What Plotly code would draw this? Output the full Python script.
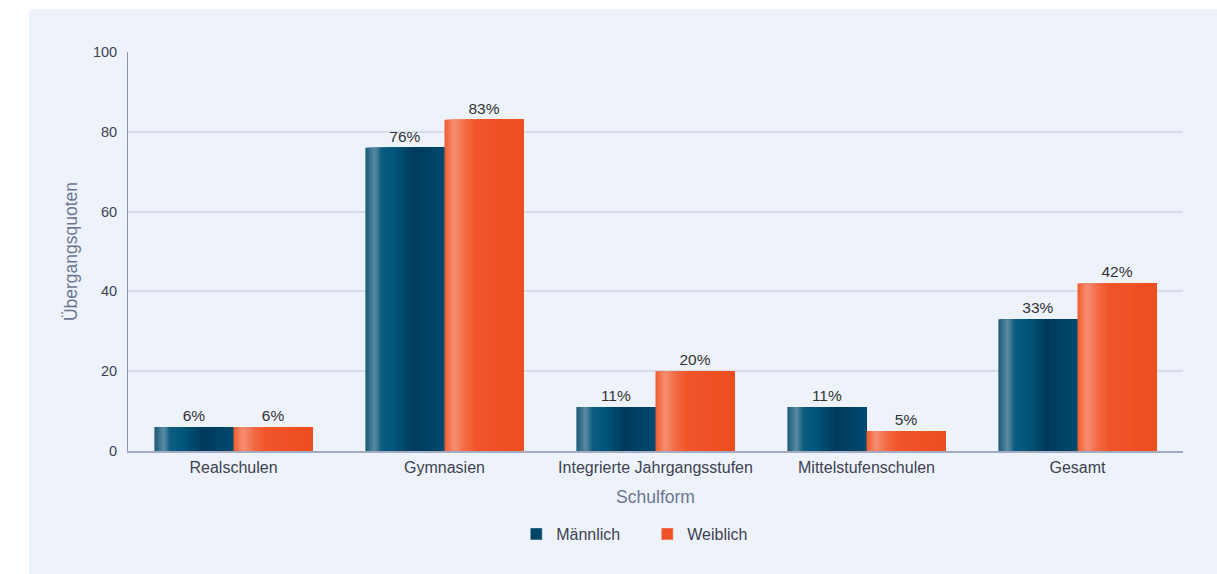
import plotly.graph_objects as go

# Data: transition rates by school type and gender
categories = ["Realschulen", "Gymnasien", "Integrierte Jahrgangsstufen",
              "Mittelstufenschulen", "Gesamt"]
maennlich = [6, 76, 11, 11, 33]
weiblich = [6, 83, 20, 5, 42]
y_ticks = [0, 20, 40, 60, 80, 100]

PANEL = "#eef3fb"
BAR_W = 0.375
N_SLICES = 40

# Horizontal gradient stops (position across bar, colour) for a glossy look
male_stops = [(0.0, "#1a5977"), (0.12, "#5d8ca3"), (0.2, "#0d5d80"),
              (0.35, "#00567a"), (0.62, "#003a5d"), (0.75, "#003f63"),
              (1.0, "#004a70")]
female_stops = [(0.0, "#f05a2e"), (0.12, "#f68f72"), (0.25, "#f36c45"),
                (0.4, "#f05529"), (1.0, "#ec4d21")]


def hex_to_rgb(h):
    h = h.lstrip("#")
    return tuple(int(h[i:i + 2], 16) for i in (0, 2, 4))


def gradient_at(stops, t):
    for (p0, c0), (p1, c1) in zip(stops[:-1], stops[1:]):
        if p0 <= t <= p1:
            f = (t - p0) / (p1 - p0) if p1 > p0 else 0
            a, b = hex_to_rgb(c0), hex_to_rgb(c1)
            r = [round(a[k] + (b[k] - a[k]) * f) for k in range(3)]
            return f"rgb({r[0]},{r[1]},{r[2]})"
    return stops[-1][1]


fig = go.Figure()


def add_series(name, values, stops, start, legend_color):
    step = BAR_W / N_SLICES
    # each slice runs to the bar's right edge; later slices cover earlier
    # ones, so the gradient shows without seams between slices
    for i in range(N_SLICES):
        t = (i + 0.5) / N_SLICES
        fig.add_trace(go.Bar(
            x=categories, y=values, width=BAR_W - i * step,
            offset=start + i * step,
            marker=dict(color=gradient_at(stops, t), line=dict(width=0)),
            showlegend=False, legendgroup=name, hoverinfo="skip",
        ))
    # full-width carrier for value labels
    fig.add_trace(go.Bar(
        x=categories, y=values, width=BAR_W, offset=start, name=name,
        legendgroup=name,
        marker=dict(color="rgba(0,0,0,0)", line=dict(width=0)),
        text=[f"{v}%" for v in values], textposition="outside",
        textfont=dict(size=15.5, color="#333333"), cliponaxis=False,
        showlegend=False,
    ))
    # legend swatch
    fig.add_trace(go.Bar(
        x=[categories[0]], y=[None], name=name, legendgroup=name,
        marker=dict(color=legend_color), showlegend=True,
    ))


add_series("Männlich", maennlich, male_stops, -BAR_W, "#004468")
add_series("Weiblich", weiblich, female_stops, 0.0, "#f05225")

fig.update_layout(
    width=1217, height=574,
    margin=dict(l=128, r=34, t=52, b=123),
    paper_bgcolor="white",
    plot_bgcolor=PANEL,
    barmode="overlay",
    font=dict(family="Liberation Sans, Arial, sans-serif", size=16,
              color="#3d4150"),
    showlegend=True,
    legend=dict(orientation="h", x=0.368, xanchor="left", y=-0.208,
                yanchor="middle", bgcolor="rgba(0,0,0,0)",
                font=dict(size=16, color="#3d4150"), itemwidth=30,
                entrywidth=86, entrywidthmode="pixels",
                traceorder="normal"),
    xaxis=dict(
        showgrid=False, showline=True, linecolor="#a4aabf", linewidth=1.5,
        ticks="outside", ticklen=1, tickcolor="rgba(0,0,0,0)",
        tickfont=dict(size=16, color="#3d4150"),
        title=dict(text="Schulform", font=dict(size=17.5, color="#6b7592"),
                   standoff=16),
    ),
    yaxis=dict(
        range=[0, 100], tickvals=y_ticks, showgrid=True,
        gridcolor="#d6dce9", gridwidth=1.5, zeroline=False,
        showline=True, linecolor="#8a92b6", linewidth=1,
        ticks="outside", ticklen=7, tickcolor="rgba(0,0,0,0)",
        tickfont=dict(size=14.5, color="#3d4150"),
        title=dict(text="Übergangsquoten", font=dict(size=17.5, color="#6b7592"),
                   standoff=10),
    ),
    shapes=[dict(type="rect", xref="paper", yref="paper", layer="below",
                 x0=-(128 - 29) / 1055, x1=(1217 - 128) / 1055,
                 y0=-123 / 399, y1=(451 - 9) / 399,
                 fillcolor=PANEL, line=dict(width=0))],
)

fig.write_html("out.html")
